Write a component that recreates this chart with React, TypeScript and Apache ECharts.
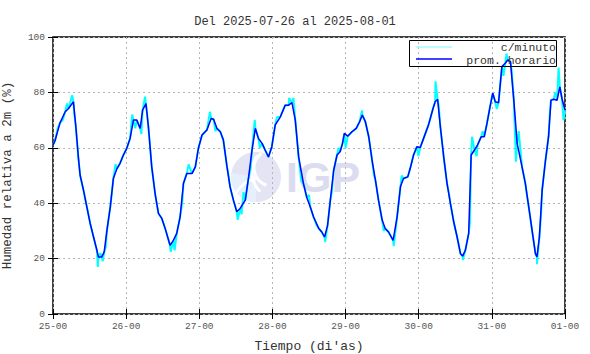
import React, { useEffect, useRef } from "react";
import * as echarts from "echarts";

const titleText = "Del 2025-07-26 al 2025-08-01";
const dayLabels = ["25-00", "26-00", "27-00", "28-00", "29-00", "30-00", "31-00", "01-00"];
const yTicks = [0, 20, 40, 60, 80, 100];

// [hour since 25-00, humidity %]
const promHorario: [number, number][] = [
  [0, 61], [0.7, 62.7], [2.3, 69], [4, 73], [5.1, 74.2], [6.7, 76.6], [7.5, 67.6], [8.3, 56.7], [8.9, 50.1], [10, 44.7],
  [11.1, 38.7], [12.2, 32.7], [13.3, 27.8], [14.4, 23], [14.9, 20.6], [16, 20.6], [16.8, 22.4], [17.7, 30.2], [18.8, 38.7],
  [19.8, 48.9], [21, 52.5], [22, 54.4], [23.1, 57.4], [24.2, 59.8], [25.3, 63.4], [26.4, 70], [27.5, 70], [28.6, 67],
  [29.4, 73.6], [30.5, 76], [31.3, 67.6], [32.4, 53.1], [33.5, 43.5], [34.6, 36.3], [35.7, 34.5], [36.8, 30.9], [38.4, 24.8],
  [39.5, 26.6], [40.6, 29.1], [41.7, 35], [42.8, 47.1], [43.9, 50.7], [45.6, 50.7], [46.7, 53.1], [47.7, 59.8], [48.9, 64.6],
  [50.5, 66.4], [51.9, 70.6], [52.7, 70.3], [53.8, 67], [54.9, 65.8], [55.9, 62.8], [57.1, 53.1], [58.1, 45.9], [59.2, 41.1],
  [60.3, 36.9], [61.4, 38.1], [63.1, 41.1], [64.2, 49.5], [65.3, 59.2], [66.4, 67], [67.4, 63.4], [68.6, 61.6], [69.6, 59.2],
  [70.7, 56.7], [71.8, 60.4], [72.9, 68.2], [74.6, 71.2], [76.2, 75.4], [77.3, 75.4], [78.4, 76.3], [79.5, 70], [80.6, 56.7],
  [82.2, 47], [83.3, 42], [84.4, 38.7], [85.5, 35], [87.2, 30.9], [88.2, 29.6], [89.1, 27.8], [90.1, 32], [91, 41.1],
  [92.1, 51.9], [93.2, 57.4], [94.2, 58.6], [95, 61.6], [95.6, 65.2], [96.7, 64.2], [98.1, 65.8], [99.5, 67], [100.6, 69.4],
  [101.5, 71.8], [102.5, 69.4], [103.6, 64], [104.7, 55.5], [105.8, 48.3], [106.8, 41.1], [108, 33.9], [109, 30.9],
  [110.1, 29.6], [111.6, 26.6], [112.9, 35], [114, 45.9], [115, 48.9], [116.4, 49.5], [117.2, 52.5], [118.3, 57.4],
  [119.4, 60.4], [120.5, 60.1], [121.6, 63.4], [123.2, 68.2], [124.7, 74.2], [125.4, 76.6], [126.2, 77.5], [127.1, 67.6],
  [128.2, 56.7], [129.3, 47.1], [130.4, 39.9], [131.5, 33.2], [132.6, 27.8], [133.7, 21.8], [134.4, 20.9], [135.3, 23],
  [136.4, 29.1], [137.2, 57.4], [138.3, 59.2], [139.3, 61], [140.5, 64], [141.5, 64], [142.4, 68.8], [143.5, 75.4],
  [144.3, 79.7], [145.1, 76.6], [146.2, 76.3], [147.3, 89.3], [148.4, 90.5], [149.2, 91.7], [150.1, 91.1], [151.2, 77.2],
  [152.3, 61.6], [153.9, 53.1], [155, 47.1], [156.1, 38.7], [157.2, 30.2], [158.3, 21.8], [158.8, 20.6], [159.6, 27.8],
  [160.5, 44.7], [161.6, 55.5], [162.6, 64], [163.4, 77.2], [164.3, 77.5], [165.4, 77.2], [166.3, 82], [167, 77.8], [168, 73.6],
];

// extra per-minute excursions
const minutoSpikes: [number, number][] = [
  [1.5, 67], [3.2, 70], [4.6, 76], [6.3, 79], [7.0, 72], [14.7, 17], [15.5, 22], [16.3, 19], [17.3, 24], [20.5, 54],
  [26, 72], [27, 67], [29, 65], [30.2, 78.5], [34, 40], [38.6, 22.5], [39.9, 23], [42.4, 40], [44.5, 54], [51.5, 73],
  [53.3, 66], [57.6, 50], [60.6, 34], [61.9, 36], [62.5, 44], [64.8, 52], [66.2, 70], [67.9, 60], [73.5, 71], [77.5, 78],
  [78.9, 78], [81.5, 48], [84, 43], [86.5, 32], [89.3, 26], [91.5, 44], [93.7, 60], [96, 60], [101.4, 73.5], [105.3, 50],
  [108.5, 30], [111.8, 24.5], [114.4, 50], [119.9, 57], [125.5, 84], [126.6, 75], [130, 43], [134.5, 19.5], [136.8, 33],
  [137.5, 64], [139, 57], [141, 66], [145.6, 74], [147.8, 86], [148.8, 94], [150.5, 88], [151.9, 55], [152.8, 66],
  [155.5, 43], [158.8, 18], [160.1, 35], [163, 72], [164.8, 80], [165.9, 89], [167.5, 70],
];

const minuto: [number, number][] = [...promHorario, ...minutoSpikes].sort((a, b) => a[0] - b[0]);

const FONT = "'Liberation Mono', 'DejaVu Sans Mono', monospace";

export default function App() {
  const ref = useRef<HTMLDivElement>(null);
  useEffect(() => {
    if (!ref.current) return;
    const chart = echarts.init(ref.current, null, { renderer: "svg" });
    const tickStyle = { show: true, inside: true, length: 5, lineStyle: { color: "#000", width: 1 } };
    const split = { show: true, lineStyle: { color: "#b4b4b4", type: [2, 3] as any, width: 1 } };
    chart.setOption({
      animation: false,
      backgroundColor: "#fff",
      title: {
        text: titleText,
        left: "center",
        top: 11,
        textStyle: { fontFamily: FONT, fontSize: 12, fontWeight: "normal", color: "#333" },
      },
      grid: {
        left: 53,
        right: 25,
        top: 37,
        bottom: 40,
        show: true,
        borderColor: "#000",
        borderWidth: 1.5,
        containLabel: false,
        outerBoundsMode: "none",
      },
      xAxis: [
        {
          type: "value",
          min: 0,
          max: 168,
          interval: 24,
          axisLine: { show: false },
          axisTick: tickStyle,
          splitLine: split,
          axisLabel: {
            fontFamily: FONT,
            fontSize: 9.5,
            color: "#555",
            margin: 7,
            formatter: (v: number) => dayLabels[Math.round(v / 24)] ?? "",
          },
          name: "Tiempo (di'as)",
          nameLocation: "middle",
          nameGap: 26,
          nameTextStyle: { fontFamily: FONT, fontSize: 13, color: "#333" },
        },
        {
          type: "value",
          position: "top",
          min: 0,
          max: 168,
          interval: 24,
          axisLine: { show: false },
          axisTick: tickStyle,
          axisLabel: { show: false },
          splitLine: { show: false },
        },
      ],
      yAxis: [
        {
          type: "value",
          min: yTicks[0],
          max: yTicks[yTicks.length - 1],
          interval: 20,
          axisLine: { show: false },
          axisTick: tickStyle,
          splitLine: split,
          axisLabel: { fontFamily: FONT, fontSize: 9.5, color: "#555", margin: 8 },
          name: "Humedad relativa a 2m (%)",
          nameLocation: "middle",
          nameGap: 39,
          nameTextStyle: { fontFamily: FONT, fontSize: 12.5, color: "#333", lineHeight: 13 },
        },
        {
          type: "value",
          position: "right",
          min: 0,
          max: 100,
          interval: 20,
          axisLine: { show: false },
          axisTick: tickStyle,
          axisLabel: { show: false },
          splitLine: { show: false },
        },
      ],
      graphic: [
        { type: "circle", shape: { cx: 256, cy: 177, r: 25 }, style: { fill: "#e4e4f4" }, z: 0, silent: true },
        { type: "sector", shape: { cx: 256, cy: 177, r: 25, r0: 0, startAngle: Math.PI * 0.5, endAngle: Math.PI * 1.05 }, style: { fill: "#e6f0fc" }, z: 0, silent: true },
        { type: "arc", shape: { cx: 272, cy: 168, r: 18, startAngle: Math.PI * 0.6, endAngle: Math.PI * 1.3 }, style: { stroke: "#ffffff", lineWidth: 3, fill: null }, z: 0, silent: true },
        { type: "arc", shape: { cx: 280, cy: 172, r: 28, startAngle: Math.PI * 0.75, endAngle: Math.PI * 1.2 }, style: { stroke: "#ffffff", lineWidth: 3, fill: null }, z: 0, silent: true },
        { type: "arc", shape: { cx: 262, cy: 208, r: 30, startAngle: Math.PI * 1.1, endAngle: Math.PI * 1.45 }, style: { stroke: "#ffffff", lineWidth: 2.5, fill: null }, z: 0, silent: true },
        {
          type: "text",
          x: 286,
          y: 177,
          style: { text: "IGP", font: "bold 43px 'Liberation Sans', Arial, sans-serif", fill: "#dcdcf0", verticalAlign: "middle", align: "left" },
          z: 0,
          silent: true,
        },
        { type: "rect", shape: { x: 409.5, y: 40.5, width: 147, height: 26 }, style: { fill: null, stroke: "#000", lineWidth: 1 }, z: 10, silent: true },
        { type: "line", shape: { x1: 416, y1: 47, x2: 452, y2: 47 }, style: { stroke: "#7ff8ff", lineWidth: 1 }, z: 10, silent: true },
        { type: "line", shape: { x1: 416, y1: 59, x2: 452, y2: 59 }, style: { stroke: "#0000ff", lineWidth: 1.5 }, z: 10, silent: true },
        {
          type: "text",
          x: 556,
          y: 47,
          style: { text: "c/minuto", font: `11.5px ${FONT}`, lineHeight: 11, fill: "#333", align: "right", verticalAlign: "middle" },
          z: 10,
          silent: true,
        },
        {
          type: "text",
          x: 556,
          y: 60,
          style: { text: "prom. horario", font: `11.5px ${FONT}`, lineHeight: 11, fill: "#333", align: "right", verticalAlign: "middle" },
          z: 10,
          silent: true,
        },
      ],
      series: [
        {
          name: "c/minuto",
          type: "line",
          data: minuto,
          showSymbol: false,
          symbol: "none",
          lineStyle: { color: "#00ffff", width: 2 },
          z: 3,
        },
        {
          name: "prom. horario",
          type: "line",
          data: promHorario,
          showSymbol: false,
          symbol: "none",
          lineStyle: { color: "#0000ff", width: 1.5 },
          z: 4,
        },
      ],
    });
    return () => chart.dispose();
  }, []);
  return <div ref={ref} style={{ position: "fixed", left: 0, top: 0, width: 590, height: 354 }} />;
}
